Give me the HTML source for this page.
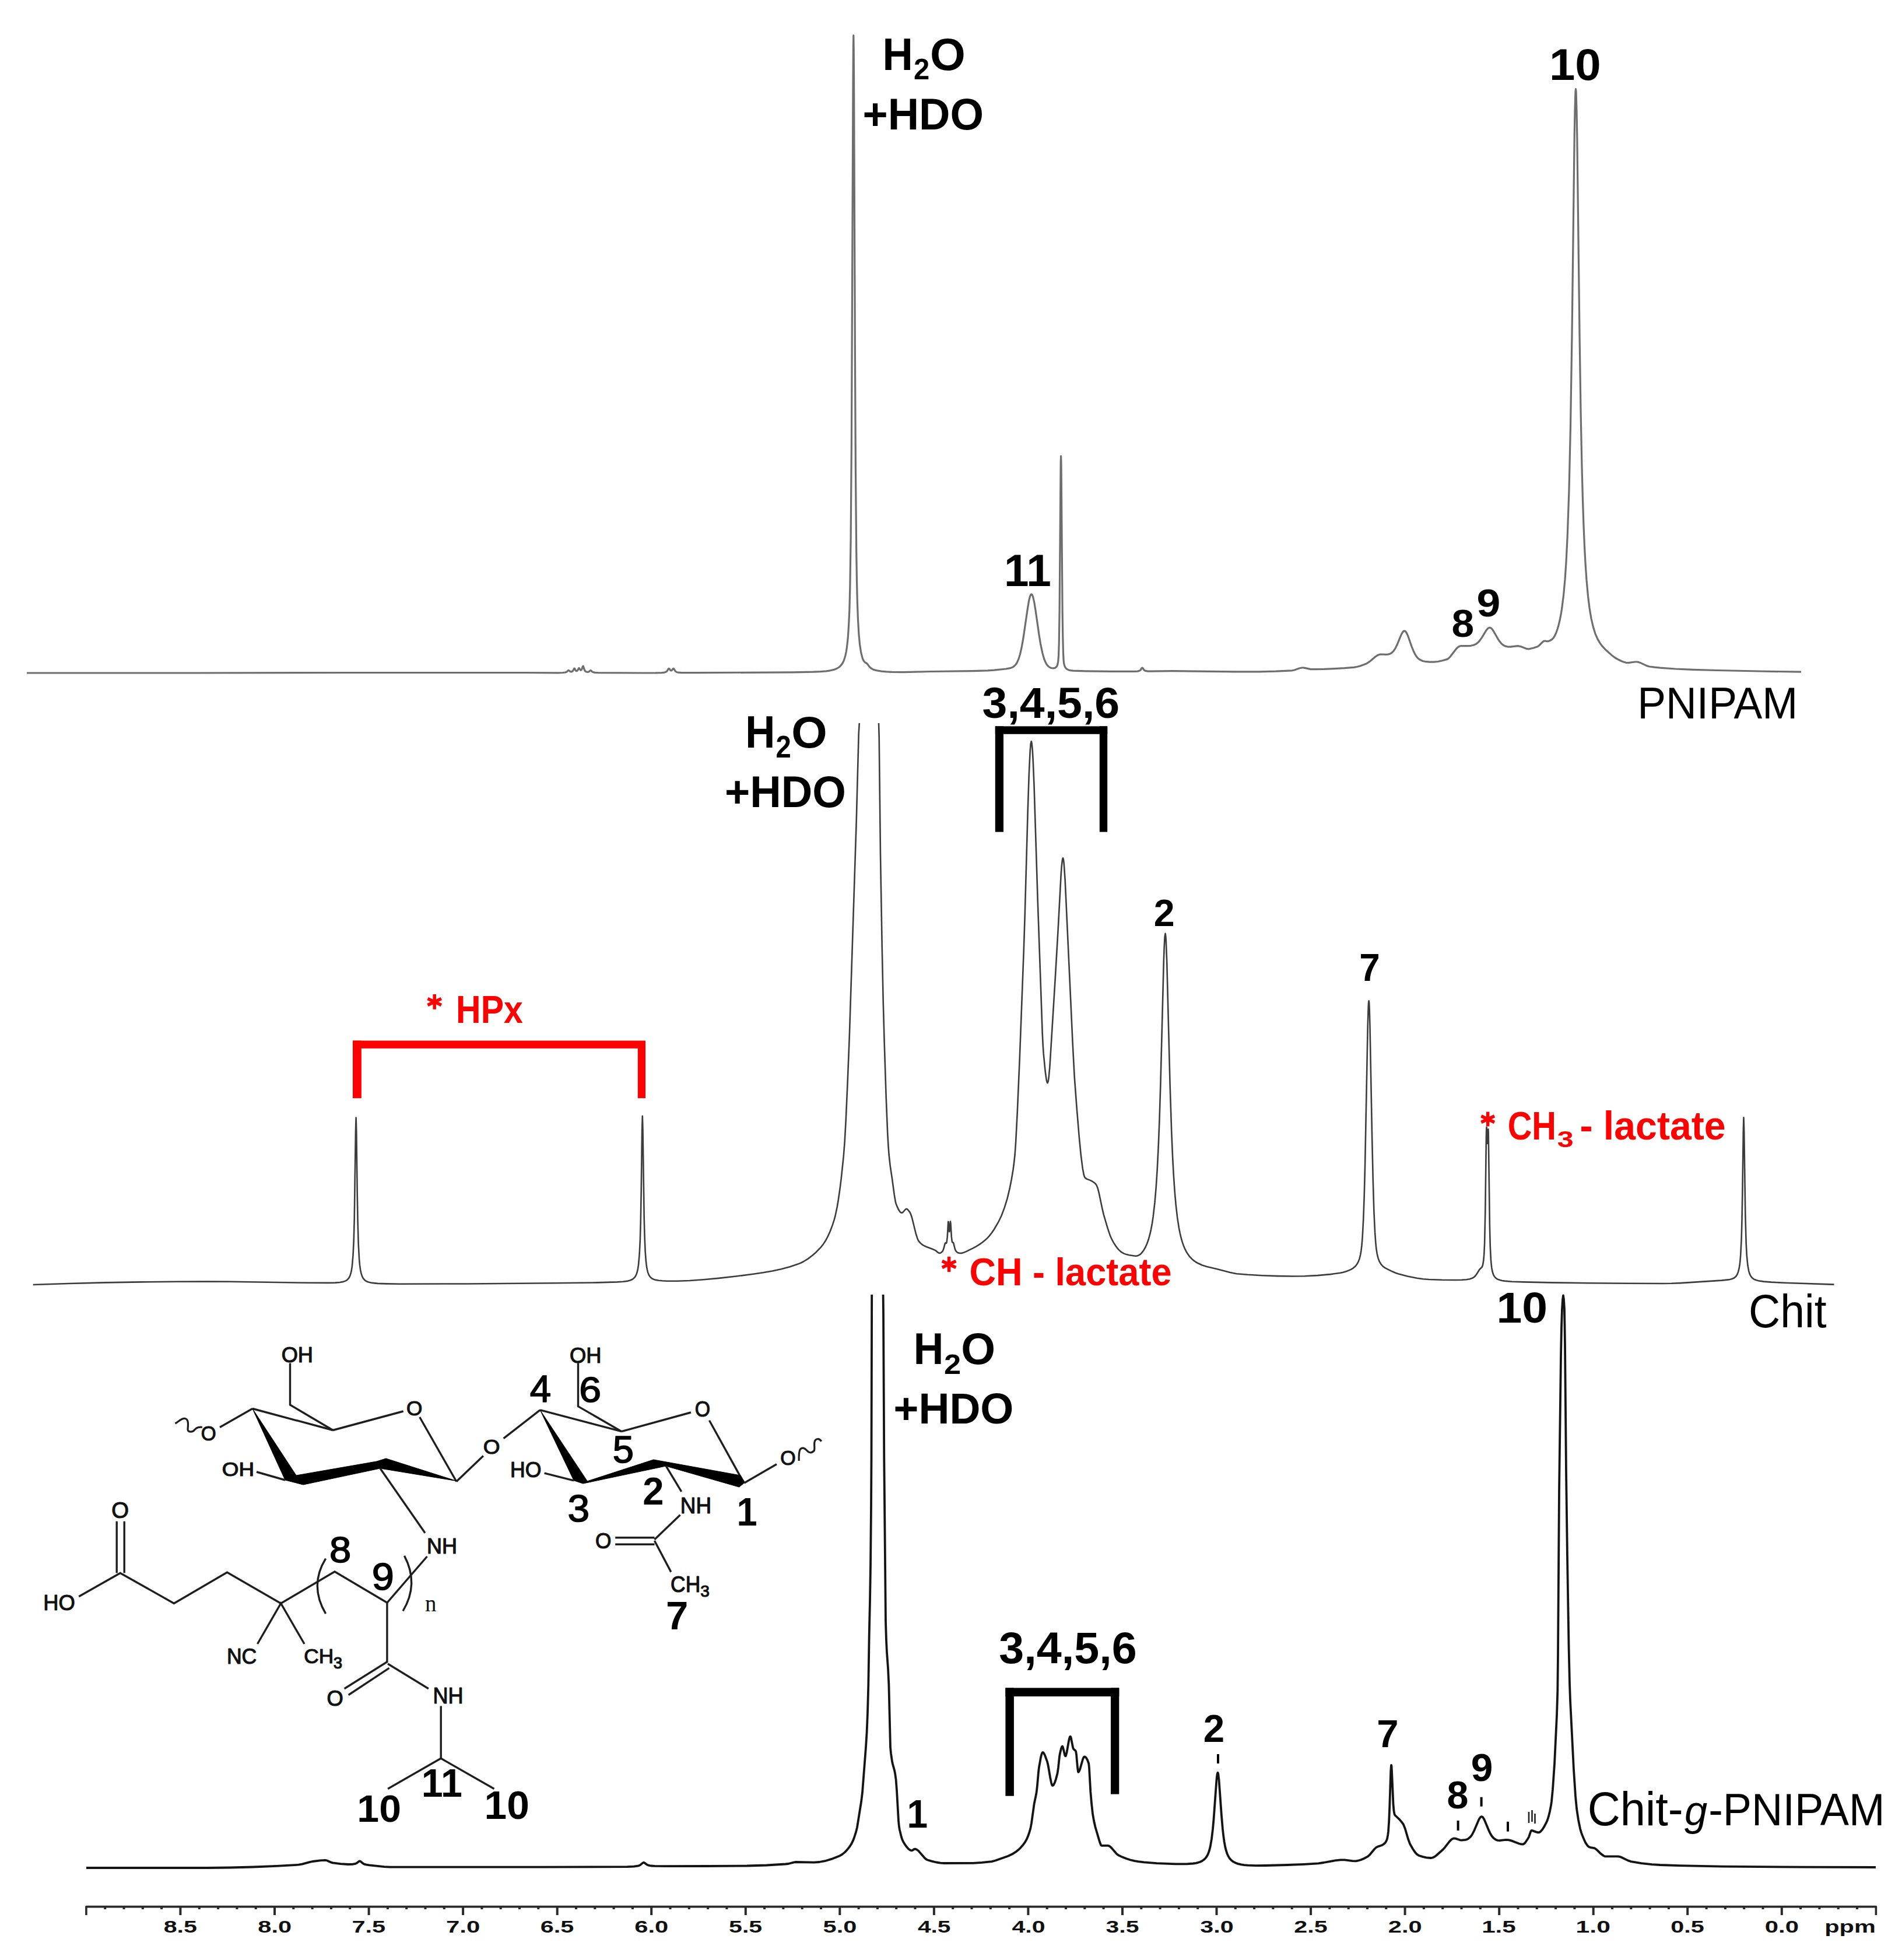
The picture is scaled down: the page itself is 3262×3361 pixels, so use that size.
<!DOCTYPE html>
<html><head><meta charset="utf-8"><style>
html,body{margin:0;padding:0;background:#fff;width:3262px;height:3361px;overflow:hidden}
svg{display:block}
</style></head><body>
<svg width="3262" height="3361" viewBox="0 0 3262 3361">
<rect width="3262" height="3361" fill="#fff"/>
<path d="M46.0 1154.0 L330.0 1154.0 L594.0 1153.5 L901.2 1153.5 L957.0 1153.8 L965.2 1153.5 L969.5 1153.0 L971.8 1152.2 L974.2 1149.9 L975.0 1149.5 L975.6 1149.7 L978.2 1151.6 L979.4 1151.9 L980.5 1151.8 L981.6 1151.3 L982.5 1150.4 L984.4 1146.7 L985.0 1146.1 L985.6 1146.6 L987.2 1149.7 L988.5 1150.6 L989.5 1150.5 L990.5 1149.8 L992.5 1146.0 L993.0 1145.6 L993.6 1146.1 L995.2 1148.8 L995.8 1149.2 L996.4 1149.2 L997.2 1148.6 L997.8 1147.6 L999.4 1142.9 L1000.0 1142.1 L1000.5 1142.8 L1001.8 1147.2 L1002.8 1149.5 L1003.8 1151.0 L1005.2 1151.9 L1007.0 1152.3 L1009.0 1152.2 L1010.2 1151.6 L1012.2 1149.9 L1013.0 1149.6 L1013.8 1150.0 L1016.0 1152.1 L1017.8 1152.9 L1020.8 1153.4 L1026.0 1153.7 L1101.2 1154.0 L1124.5 1153.9 L1135.0 1153.6 L1139.8 1153.1 L1142.5 1152.1 L1144.2 1150.5 L1146.2 1147.0 L1147.0 1146.4 L1147.8 1146.8 L1149.8 1149.5 L1151.0 1150.0 L1152.2 1149.5 L1154.2 1146.8 L1155.0 1146.3 L1155.8 1147.0 L1158.0 1150.7 L1159.8 1152.1 L1161.2 1152.7 L1163.2 1153.2 L1169.2 1153.6 L1192.0 1153.7 L1359.0 1152.8 L1395.0 1152.2 L1407.0 1151.6 L1417.0 1150.8 L1424.0 1149.8 L1430.0 1148.4 L1435.0 1146.5 L1439.1 1144.0 L1441.7 1141.6 L1444.0 1138.7 L1445.6 1136.1 L1447.0 1133.1 L1448.7 1128.3 L1450.0 1123.6 L1451.3 1117.2 L1452.4 1110.6 L1454.2 1094.0 L1455.7 1070.9 L1456.8 1046.7 L1457.8 1008.9 L1459.1 924.2 L1460.4 760.7 L1463.0 150.0 L1463.4 84.3 L1463.8 60.5 L1464.2 84.3 L1464.6 145.9 L1466.4 607.0 L1467.4 801.9 L1468.7 945.9 L1469.5 996.1 L1470.3 1029.9 L1471.4 1061.2 L1472.9 1087.3 L1474.6 1105.3 L1476.8 1119.4 L1479.1 1128.3 L1480.6 1131.9 L1481.8 1134.0 L1483.8 1136.1 L1486.2 1137.3 L1487.2 1138.1 L1491.1 1143.4 L1494.2 1146.2 L1497.4 1147.9 L1501.0 1149.1 L1505.8 1150.2 L1511.9 1151.1 L1520.0 1151.8 L1530.0 1152.4 L1549.6 1152.7 L1597.0 1151.5 L1668.0 1150.7 L1694.0 1149.9 L1705.0 1149.2 L1725.2 1147.0 L1731.5 1145.9 L1736.0 1144.4 L1738.0 1143.3 L1740.2 1141.5 L1742.0 1139.6 L1744.0 1136.6 L1747.0 1129.9 L1749.4 1122.1 L1752.1 1110.4 L1754.8 1095.4 L1762.0 1046.2 L1764.0 1033.9 L1765.2 1027.6 L1766.5 1022.9 L1767.8 1019.9 L1768.3 1019.2 L1769.0 1018.9 L1770.2 1019.9 L1771.5 1023.0 L1773.7 1032.5 L1776.0 1046.6 L1782.0 1088.5 L1784.5 1103.8 L1787.8 1119.6 L1790.8 1130.2 L1792.8 1135.1 L1795.0 1139.2 L1797.1 1141.8 L1799.8 1144.1 L1803.0 1145.5 L1806.5 1145.9 L1808.0 1145.7 L1809.5 1145.2 L1811.7 1143.6 L1812.8 1142.1 L1813.7 1139.9 L1814.7 1134.5 L1815.5 1125.5 L1816.2 1104.6 L1817.1 1046.3 L1818.9 824.2 L1819.2 793.3 L1819.6 782.0 L1820.0 793.4 L1820.3 824.4 L1822.1 1046.8 L1822.8 1092.3 L1823.4 1117.8 L1824.1 1131.8 L1824.6 1136.9 L1825.4 1140.5 L1826.4 1143.4 L1827.9 1145.7 L1829.7 1147.4 L1832.2 1148.7 L1835.8 1149.6 L1840.3 1150.2 L1862.0 1150.9 L1906.5 1151.4 L1945.5 1151.4 L1951.0 1151.1 L1954.2 1150.3 L1956.0 1149.0 L1958.2 1145.7 L1959.0 1145.1 L1959.8 1145.7 L1961.8 1148.6 L1963.2 1149.9 L1965.8 1150.7 L1969.5 1151.1 L2010.2 1150.7 L2118.0 1151.8 L2159.0 1151.9 L2188.0 1151.2 L2216.0 1149.8 L2220.0 1149.0 L2229.0 1145.8 L2233.0 1145.0 L2235.0 1145.0 L2237.8 1145.4 L2248.0 1147.6 L2254.0 1147.7 L2271.0 1147.4 L2288.5 1146.7 L2306.0 1145.7 L2322.0 1144.4 L2327.0 1143.5 L2332.0 1142.2 L2339.0 1139.8 L2344.0 1137.8 L2349.0 1134.4 L2359.0 1126.0 L2362.0 1124.0 L2364.6 1122.8 L2366.5 1122.2 L2368.2 1122.0 L2377.0 1122.3 L2380.2 1122.1 L2383.8 1121.2 L2387.0 1119.4 L2390.0 1116.4 L2393.0 1111.9 L2396.0 1105.8 L2401.8 1091.6 L2404.0 1086.7 L2406.0 1083.5 L2407.0 1082.5 L2408.0 1082.0 L2409.0 1081.9 L2410.2 1082.5 L2411.4 1083.9 L2413.0 1086.6 L2415.0 1091.3 L2421.2 1109.0 L2424.0 1116.0 L2427.0 1122.2 L2430.0 1126.7 L2432.0 1128.9 L2434.0 1130.5 L2438.0 1132.7 L2441.0 1133.7 L2444.0 1134.3 L2452.0 1135.2 L2459.0 1135.2 L2466.0 1134.5 L2474.0 1132.8 L2482.2 1130.4 L2484.8 1128.5 L2487.4 1125.8 L2498.0 1112.1 L2500.4 1109.8 L2503.0 1108.2 L2505.0 1107.7 L2517.3 1107.6 L2522.5 1107.3 L2527.0 1106.3 L2531.0 1104.6 L2534.2 1102.3 L2537.5 1098.9 L2541.2 1093.6 L2549.0 1080.8 L2552.0 1077.4 L2554.0 1076.3 L2555.0 1076.2 L2557.0 1076.9 L2558.9 1078.7 L2560.0 1080.1 L2562.0 1083.2 L2570.0 1097.2 L2572.0 1100.1 L2574.5 1103.1 L2577.0 1105.4 L2579.0 1106.7 L2582.0 1108.1 L2584.9 1108.8 L2587.5 1109.1 L2590.1 1109.1 L2601.0 1107.8 L2604.0 1107.7 L2608.0 1108.6 L2618.0 1112.4 L2621.0 1112.9 L2623.0 1112.8 L2630.4 1111.0 L2637.0 1108.7 L2639.5 1107.0 L2645.0 1101.5 L2647.0 1099.8 L2648.0 1099.3 L2650.0 1099.0 L2653.0 1099.7 L2655.0 1099.7 L2659.0 1098.2 L2662.0 1096.2 L2664.2 1093.8 L2666.5 1090.2 L2668.8 1085.3 L2671.0 1079.0 L2673.0 1072.2 L2675.0 1064.0 L2677.0 1053.9 L2678.5 1044.8 L2681.5 1021.3 L2684.0 993.9 L2686.0 964.5 L2688.2 919.8 L2691.0 840.0 L2693.5 730.9 L2696.0 572.9 L2700.2 233.6 L2701.0 190.4 L2701.8 162.4 L2702.0 157.0 L2702.5 152.7 L2703.0 157.0 L2703.2 162.4 L2704.0 190.4 L2704.8 233.6 L2709.0 573.1 L2711.0 703.8 L2713.0 801.8 L2714.5 857.6 L2716.0 901.8 L2717.5 936.9 L2719.0 965.1 L2721.0 994.7 L2723.5 1022.2 L2726.0 1042.5 L2729.0 1060.5 L2732.5 1075.6 L2736.2 1087.3 L2740.0 1095.9 L2743.8 1102.4 L2748.0 1108.2 L2754.0 1114.5 L2764.0 1123.4 L2770.0 1128.0 L2776.0 1131.3 L2781.0 1133.8 L2785.0 1135.3 L2788.8 1136.3 L2793.0 1136.6 L2803.8 1135.0 L2808.0 1135.0 L2810.0 1135.4 L2813.0 1136.4 L2824.0 1141.6 L2828.7 1143.0 L2837.5 1144.2 L2847.0 1145.2 L2873.0 1147.0 L2904.0 1148.3 L2945.0 1149.5 L3017.0 1151.0 L3089.0 1152.2" fill="none" stroke="#6e6e6e" stroke-width="3.2" stroke-linejoin="round" stroke-linecap="butt"/>
<path d="M56.7 2203.0 L117.7 2201.0 L179.7 2199.4 L241.7 2198.4 L303.7 2197.7 L353.7 2197.6 L392.7 2197.8 L530.7 2199.8 L563.7 2199.9 L575.0 2199.6 L583.0 2199.0 L588.8 2197.9 L593.4 2196.1 L595.7 2194.5 L598.4 2191.4 L600.2 2187.9 L601.6 2183.7 L602.8 2178.6 L603.9 2171.1 L605.5 2152.6 L606.7 2127.9 L607.7 2091.4 L609.9 1940.0 L610.6 1916.5 L611.3 1940.0 L612.7 2046.1 L613.6 2095.6 L614.7 2133.3 L616.1 2159.4 L617.0 2169.4 L618.2 2177.7 L619.3 2183.2 L621.0 2188.3 L623.0 2192.3 L625.5 2195.2 L628.7 2197.3 L631.7 2198.5 L638.2 2199.9 L647.7 2200.9 L662.4 2201.4 L685.4 2201.7 L800.7 2201.5 L950.7 2200.3 L1023.7 2199.4 L1058.7 2198.4 L1068.5 2197.8 L1075.3 2196.9 L1080.7 2195.5 L1084.7 2193.7 L1087.7 2191.3 L1089.6 2188.9 L1091.5 2185.2 L1092.8 2181.0 L1094.0 2175.9 L1095.1 2168.3 L1096.7 2149.7 L1097.9 2125.3 L1098.8 2092.6 L1099.7 2043.2 L1101.1 1937.2 L1101.8 1913.7 L1102.5 1937.2 L1104.7 2088.3 L1105.5 2118.3 L1106.6 2145.6 L1108.0 2163.8 L1108.9 2171.3 L1110.1 2177.7 L1111.2 2182.1 L1112.8 2186.2 L1114.7 2189.1 L1116.7 2191.3 L1119.0 2192.9 L1121.7 2194.0 L1124.8 2194.9 L1129.7 2195.7 L1135.7 2196.3 L1143.7 2196.7 L1161.7 2196.7 L1182.7 2196.0 L1206.7 2194.3 L1232.7 2191.9 L1262.7 2188.5 L1291.7 2184.8 L1308.7 2182.3 L1324.7 2179.5 L1339.7 2176.2 L1354.7 2172.2 L1368.7 2167.6 L1373.7 2165.5 L1377.7 2163.5 L1385.7 2158.6 L1392.7 2153.3 L1399.7 2147.2 L1407.0 2139.7 L1411.7 2133.9 L1415.7 2127.8 L1419.7 2120.4 L1423.7 2111.5 L1427.7 2100.9 L1430.7 2091.7 L1432.7 2084.1 L1435.7 2069.7 L1437.7 2058.0 L1440.7 2037.2 L1442.7 2021.1 L1446.7 1983.2 L1448.7 1957.4 L1450.7 1921.2 L1453.7 1854.1 L1456.7 1779.2 L1468.7 1408.5 L1472.7 1258.0 L1473.7 1241.1 L1474.0 1240.0 M1507.0 1240.0 L1507.7 1263.4 L1510.0 1465.6 L1512.7 1622.0 L1514.7 1716.7 L1516.7 1788.6 L1519.7 1881.2 L1522.2 1942.8 L1523.5 1965.2 L1524.6 1980.0 L1526.7 1999.1 L1530.0 2021.0 L1533.7 2048.4 L1535.7 2060.4 L1536.9 2064.8 L1538.8 2069.4 L1541.2 2074.6 L1543.5 2078.0 L1545.0 2079.3 L1546.5 2079.8 L1547.7 2079.4 L1548.8 2078.5 L1552.7 2074.0 L1553.8 2073.3 L1554.7 2073.0 L1555.7 2073.3 L1556.7 2074.0 L1560.2 2078.4 L1561.7 2081.3 L1563.8 2087.3 L1570.8 2115.5 L1573.8 2124.8 L1575.2 2127.6 L1577.7 2130.8 L1580.5 2133.4 L1583.7 2135.6 L1588.8 2138.0 L1598.8 2141.7 L1603.1 2143.6 L1604.8 2144.5 L1608.5 2147.7 L1610.2 2148.7 L1611.2 2148.9 L1612.1 2148.8 L1613.8 2148.1 L1615.2 2147.0 L1616.7 2145.3 L1617.9 2142.8 L1620.9 2131.9 L1621.5 2131.4 L1622.5 2132.0 L1622.8 2131.9 L1623.3 2131.2 L1623.7 2129.7 L1624.7 2121.4 L1626.2 2095.1 L1626.3 2094.8 L1626.5 2095.0 L1626.7 2096.3 L1627.7 2110.0 L1628.0 2111.9 L1628.2 2112.2 L1628.8 2109.5 L1629.7 2096.6 L1630.0 2094.6 L1630.5 2098.3 L1631.8 2120.7 L1632.7 2128.4 L1633.3 2130.3 L1633.7 2130.5 L1634.6 2130.5 L1635.2 2131.3 L1638.0 2142.4 L1639.2 2144.9 L1641.0 2147.0 L1643.2 2148.3 L1646.2 2149.0 L1649.0 2148.9 L1652.2 2148.1 L1656.5 2146.4 L1668.8 2140.4 L1674.3 2137.3 L1679.5 2134.1 L1684.7 2130.5 L1689.3 2126.7 L1693.5 2122.9 L1696.7 2119.4 L1700.7 2114.3 L1704.7 2108.5 L1712.2 2095.7 L1717.5 2084.7 L1722.7 2070.9 L1727.5 2055.4 L1731.7 2037.9 L1734.7 2022.7 L1737.5 2006.0 L1738.7 1997.3 L1740.6 1980.0 L1742.0 1960.3 L1744.7 1908.6 L1748.7 1816.3 L1755.7 1631.7 L1757.7 1570.0 L1762.7 1390.4 L1764.7 1329.7 L1766.7 1287.3 L1767.7 1275.6 L1768.7 1271.4 L1769.0 1271.8 L1769.7 1275.3 L1770.7 1286.3 L1771.7 1303.4 L1773.5 1346.6 L1779.7 1543.9 L1787.7 1771.6 L1788.7 1792.0 L1789.7 1806.9 L1792.7 1837.6 L1794.7 1851.9 L1795.7 1855.8 L1796.0 1856.5 L1796.6 1857.0 L1797.7 1854.3 L1798.7 1847.8 L1800.5 1828.0 L1809.5 1682.2 L1814.7 1593.1 L1819.7 1499.6 L1820.7 1485.9 L1821.7 1476.3 L1822.7 1471.6 L1823.0 1471.3 L1823.7 1472.9 L1824.7 1480.4 L1826.7 1509.9 L1839.7 1789.8 L1842.7 1846.6 L1846.7 1900.1 L1850.7 1948.5 L1853.7 1979.6 L1856.7 2003.3 L1858.7 2013.9 L1859.7 2017.3 L1860.7 2019.4 L1863.7 2021.6 L1870.7 2024.4 L1874.7 2026.7 L1877.0 2028.3 L1878.7 2029.9 L1880.7 2032.5 L1882.7 2037.7 L1884.7 2045.4 L1890.5 2072.9 L1892.7 2082.4 L1899.5 2105.7 L1903.7 2118.2 L1907.0 2125.7 L1909.7 2130.6 L1913.0 2135.8 L1915.7 2139.6 L1918.7 2143.1 L1921.7 2145.9 L1923.7 2147.4 L1927.7 2149.6 L1931.7 2151.1 L1936.7 2152.2 L1946.7 2153.8 L1949.9 2153.6 L1952.7 2152.7 L1955.3 2151.2 L1957.7 2148.9 L1961.6 2143.7 L1964.3 2139.0 L1967.0 2133.0 L1969.7 2125.5 L1972.4 2115.7 L1974.2 2107.6 L1976.0 2097.7 L1977.7 2086.4 L1980.5 2062.2 L1982.7 2036.4 L1984.7 2005.6 L1986.8 1963.4 L1988.6 1916.8 L1990.4 1859.1 L1995.8 1648.5 L1996.7 1623.1 L1997.6 1606.6 L1998.5 1600.9 L1998.7 1601.2 L1999.4 1606.7 L1999.7 1611.1 L2001.2 1648.8 L2006.6 1860.0 L2009.3 1942.5 L2011.1 1984.2 L2012.7 2013.9 L2014.7 2043.3 L2016.7 2066.1 L2019.2 2087.9 L2021.9 2105.4 L2023.7 2114.5 L2025.5 2122.2 L2027.7 2129.9 L2029.7 2135.7 L2031.8 2140.8 L2034.5 2146.2 L2037.2 2150.6 L2039.9 2154.3 L2043.5 2158.2 L2046.7 2161.1 L2050.7 2164.0 L2054.7 2166.3 L2061.7 2169.5 L2069.7 2172.1 L2086.7 2176.0 L2109.7 2182.0 L2120.7 2184.2 L2139.7 2185.8 L2164.7 2187.2 L2190.7 2188.1 L2216.7 2188.5 L2237.6 2188.2 L2259.6 2187.1 L2282.0 2185.1 L2299.0 2182.7 L2303.7 2181.7 L2308.7 2180.2 L2313.5 2178.4 L2317.3 2176.6 L2320.7 2174.6 L2322.8 2172.8 L2325.1 2170.7 L2327.2 2167.8 L2329.7 2163.4 L2331.5 2158.6 L2333.3 2151.3 L2334.4 2144.7 L2335.5 2135.4 L2336.6 2122.2 L2338.2 2091.9 L2339.7 2051.3 L2341.0 2001.6 L2345.7 1759.7 L2346.7 1726.7 L2347.1 1720.2 L2347.6 1716.3 L2348.2 1720.2 L2348.7 1731.6 L2349.5 1759.7 L2353.1 1949.7 L2354.8 2024.0 L2356.4 2078.0 L2358.1 2113.4 L2359.2 2129.0 L2360.2 2140.0 L2361.7 2149.8 L2363.6 2157.6 L2365.7 2163.2 L2368.5 2167.9 L2371.7 2171.5 L2375.7 2174.4 L2387.7 2180.3 L2392.7 2182.5 L2397.7 2184.3 L2413.7 2188.4 L2430.1 2191.7 L2440.7 2193.2 L2450.7 2194.0 L2472.7 2194.8 L2495.7 2195.0 L2507.0 2194.8 L2514.9 2194.2 L2520.7 2193.2 L2525.0 2191.8 L2527.7 2190.2 L2530.4 2187.7 L2532.7 2184.6 L2537.3 2177.0 L2541.2 2173.3 L2542.2 2171.7 L2543.0 2169.2 L2544.3 2161.8 L2545.3 2149.8 L2546.1 2132.5 L2547.3 2078.1 L2548.9 1950.7 L2549.2 1938.4 L2549.5 1932.9 L2550.9 1960.9 L2551.3 1957.5 L2552.2 1936.8 L2552.4 1936.3 L2552.4 1936.5 L2552.7 1942.3 L2554.9 2103.4 L2555.8 2137.4 L2556.9 2160.2 L2558.2 2173.4 L2559.1 2178.6 L2560.2 2182.8 L2561.4 2186.2 L2562.9 2188.8 L2564.7 2191.0 L2567.0 2192.8 L2569.5 2194.1 L2572.4 2195.1 L2576.0 2196.0 L2580.5 2196.6 L2593.1 2197.7 L2612.9 2198.4 L2659.7 2199.4 L2727.0 2200.3 L2791.7 2200.8 L2851.7 2201.0 L2866.7 2200.8 L2882.7 2200.1 L2952.6 2195.6 L2964.7 2194.4 L2968.7 2193.6 L2971.7 2192.6 L2974.7 2191.0 L2977.2 2188.8 L2979.2 2185.7 L2980.8 2181.9 L2982.2 2176.9 L2983.4 2170.6 L2984.3 2163.3 L2985.2 2152.5 L2986.6 2125.0 L2987.5 2092.8 L2988.4 2042.1 L2989.8 1939.6 L2990.5 1916.4 L2991.2 1939.6 L2993.3 2082.4 L2994.7 2132.8 L2995.8 2153.0 L2997.4 2169.6 L2999.2 2179.6 L3000.6 2184.1 L3002.0 2187.1 L3003.6 2189.6 L3005.4 2191.6 L3007.7 2193.3 L3009.7 2194.3 L3012.3 2195.3 L3015.8 2196.2 L3024.7 2197.6 L3037.7 2198.6 L3059.5 2199.7 L3145.5 2202.6" fill="none" stroke="#3c3c3c" stroke-width="2.6" stroke-linejoin="round" stroke-linecap="butt"/>
<path d="M148.0 3203.0 L356.0 3203.0 L396.0 3202.5 L434.0 3201.5 L474.0 3199.9 L512.0 3197.7 L518.0 3196.7 L531.0 3193.1 L536.0 3192.0 L549.0 3190.3 L557.3 3189.8 L559.0 3190.0 L561.0 3190.5 L568.0 3193.7 L570.6 3194.4 L584.0 3196.1 L597.5 3197.0 L604.0 3196.9 L608.5 3196.2 L611.5 3195.0 L615.5 3191.9 L617.0 3191.4 L618.5 3192.0 L621.5 3194.6 L623.5 3196.0 L625.5 3196.9 L628.5 3197.7 L633.5 3198.4 L659.0 3201.1 L669.0 3201.7 L931.5 3201.6 L1076.0 3201.1 L1087.0 3200.7 L1094.0 3199.7 L1096.0 3199.1 L1098.0 3198.1 L1102.5 3194.4 L1104.0 3193.8 L1105.5 3194.4 L1109.5 3197.5 L1112.0 3198.6 L1116.5 3199.5 L1123.0 3199.9 L1141.0 3200.1 L1212.0 3200.0 L1281.0 3199.5 L1315.0 3198.5 L1347.0 3196.5 L1352.0 3196.0 L1361.0 3193.6 L1365.0 3193.0 L1396.0 3193.6 L1405.0 3193.0 L1415.0 3191.2 L1426.0 3187.9 L1439.2 3182.8 L1442.0 3181.4 L1445.0 3179.4 L1449.0 3176.1 L1453.0 3171.9 L1457.0 3166.9 L1460.0 3162.3 L1463.0 3156.2 L1465.0 3151.0 L1468.0 3141.6 L1470.0 3133.6 L1477.0 3089.9 L1479.0 3073.8 L1485.0 2996.2 L1486.6 2970.5 L1488.0 2936.1 L1489.3 2889.3 L1490.6 2808.2 L1492.0 2745.1 L1493.0 2685.4 L1494.0 2583.4 L1494.5 2500.0 L1495.2 2220.0 M1514.6 2220.0 L1515.0 2249.9 L1516.3 2500.0 L1519.0 2781.0 L1520.0 2813.2 L1521.0 2833.4 L1523.0 2860.7 L1524.4 2889.3 L1527.0 2996.1 L1528.0 3006.7 L1530.0 3020.5 L1531.0 3024.9 L1534.0 3035.8 L1535.0 3040.6 L1536.6 3051.6 L1538.0 3070.2 L1541.0 3122.9 L1542.0 3132.7 L1543.0 3138.1 L1546.0 3150.4 L1547.0 3153.4 L1549.0 3158.0 L1552.0 3162.9 L1555.0 3167.1 L1558.0 3170.5 L1560.0 3172.0 L1562.0 3173.0 L1563.7 3173.3 L1565.0 3172.9 L1568.0 3170.9 L1569.0 3170.6 L1570.0 3170.7 L1572.0 3171.5 L1574.0 3172.9 L1576.0 3174.7 L1586.0 3186.3 L1588.0 3188.0 L1590.0 3189.2 L1598.0 3191.6 L1606.0 3193.5 L1613.0 3194.6 L1619.0 3195.0 L1669.0 3194.9 L1684.0 3193.9 L1701.0 3192.1 L1707.0 3190.5 L1729.0 3182.7 L1735.8 3179.6 L1742.0 3175.7 L1746.0 3172.6 L1750.0 3168.8 L1754.0 3164.3 L1758.0 3158.9 L1761.0 3153.5 L1763.0 3148.8 L1765.0 3143.2 L1767.3 3135.5 L1769.0 3126.5 L1773.6 3093.4 L1777.0 3077.2 L1777.8 3072.4 L1779.0 3061.4 L1781.0 3038.5 L1782.0 3030.3 L1785.0 3013.7 L1786.0 3009.5 L1787.0 3006.5 L1788.0 3005.1 L1788.3 3005.0 L1789.0 3005.2 L1790.0 3006.2 L1792.0 3009.9 L1795.7 3019.8 L1797.0 3024.6 L1798.0 3029.6 L1801.0 3047.3 L1803.0 3057.2 L1804.0 3060.4 L1805.0 3061.9 L1806.0 3061.6 L1807.0 3060.6 L1809.0 3056.7 L1811.0 3050.6 L1813.6 3040.8 L1815.0 3030.9 L1817.0 3012.2 L1817.8 3007.2 L1820.0 2998.3 L1821.0 2995.6 L1822.0 2994.6 L1822.5 2995.0 L1824.0 3000.1 L1826.0 3009.1 L1827.0 3011.3 L1827.2 3011.4 L1828.0 3010.5 L1829.5 3005.2 L1833.0 2985.4 L1834.0 2980.9 L1835.0 2978.2 L1835.6 2977.7 L1836.0 2978.0 L1836.5 2979.1 L1837.0 2980.9 L1840.0 2996.2 L1840.9 2998.8 L1842.0 3000.1 L1844.0 3001.5 L1845.1 3003.0 L1846.0 3008.2 L1848.0 3031.1 L1849.0 3038.2 L1849.3 3038.7 L1850.0 3038.4 L1850.5 3037.7 L1852.0 3034.4 L1857.0 3017.0 L1858.0 3014.5 L1859.0 3012.8 L1859.8 3012.4 L1861.0 3012.7 L1862.0 3013.4 L1863.0 3014.5 L1865.0 3018.0 L1867.2 3024.0 L1868.0 3031.6 L1870.3 3072.4 L1872.0 3092.1 L1874.0 3110.4 L1876.0 3122.0 L1878.5 3133.0 L1886.0 3158.5 L1888.0 3163.7 L1889.0 3164.8 L1889.3 3164.9 L1900.0 3164.9 L1902.0 3165.4 L1904.0 3166.7 L1906.0 3168.5 L1914.0 3177.8 L1916.0 3179.8 L1918.0 3181.3 L1925.0 3184.6 L1932.0 3187.3 L1939.0 3189.5 L1946.0 3191.1 L1952.0 3192.1 L1962.0 3193.3 L1984.0 3195.1 L2016.0 3196.4 L2035.0 3196.4 L2046.5 3195.5 L2051.0 3194.8 L2055.0 3193.8 L2058.4 3192.7 L2061.9 3191.0 L2064.7 3189.0 L2066.8 3187.1 L2068.9 3184.5 L2070.3 3182.3 L2071.7 3179.5 L2073.1 3175.9 L2074.5 3171.4 L2075.9 3165.5 L2078.0 3153.2 L2080.0 3136.5 L2081.5 3120.0 L2086.4 3052.4 L2087.1 3045.6 L2087.8 3041.2 L2088.5 3039.7 L2089.2 3041.3 L2090.6 3052.6 L2094.8 3111.5 L2097.0 3137.0 L2098.3 3148.6 L2099.7 3158.5 L2101.0 3165.7 L2102.5 3172.2 L2104.6 3178.8 L2106.7 3183.3 L2109.0 3186.9 L2111.6 3189.7 L2115.0 3192.4 L2119.0 3194.5 L2123.5 3196.1 L2129.0 3197.4 L2134.0 3198.1 L2140.0 3198.7 L2154.0 3199.1 L2170.0 3199.0 L2207.5 3198.0 L2237.0 3196.8 L2261.0 3195.3 L2270.0 3194.0 L2289.8 3190.4 L2299.0 3189.3 L2306.0 3189.3 L2319.5 3191.1 L2325.0 3191.3 L2329.0 3190.7 L2334.0 3189.2 L2339.8 3186.7 L2346.0 3183.4 L2349.0 3180.7 L2357.0 3171.0 L2360.0 3168.1 L2362.8 3166.6 L2368.5 3164.7 L2371.0 3163.7 L2374.2 3161.4 L2376.0 3159.4 L2377.5 3157.0 L2378.5 3154.8 L2379.2 3152.2 L2380.2 3147.0 L2381.0 3140.7 L2382.2 3122.8 L2383.2 3099.1 L2385.2 3037.6 L2386.0 3026.9 L2386.2 3026.9 L2386.5 3028.7 L2387.0 3036.9 L2389.5 3093.8 L2390.5 3105.3 L2391.5 3110.6 L2392.0 3111.9 L2392.8 3113.0 L2400.5 3120.4 L2405.0 3125.8 L2407.0 3128.7 L2409.8 3135.7 L2415.0 3153.5 L2418.0 3161.7 L2423.0 3170.5 L2427.0 3176.4 L2430.0 3179.7 L2433.0 3181.7 L2439.8 3183.9 L2446.0 3185.3 L2453.0 3186.0 L2455.0 3186.0 L2457.0 3185.5 L2459.8 3184.3 L2463.0 3182.0 L2474.8 3171.5 L2478.0 3167.9 L2486.0 3157.6 L2489.0 3154.6 L2491.0 3153.2 L2493.0 3152.5 L2496.0 3152.6 L2504.0 3155.3 L2507.0 3155.7 L2513.4 3154.9 L2515.7 3154.2 L2518.0 3153.1 L2521.4 3150.3 L2523.0 3148.5 L2525.0 3145.5 L2528.3 3139.0 L2536.4 3120.0 L2538.7 3116.4 L2539.8 3115.5 L2541.0 3115.2 L2542.2 3115.5 L2543.3 3116.5 L2545.6 3120.2 L2554.0 3140.2 L2556.0 3144.3 L2558.2 3148.0 L2560.6 3151.0 L2563.0 3153.2 L2566.0 3155.0 L2568.6 3155.9 L2572.1 3156.2 L2582.4 3154.9 L2587.0 3155.1 L2592.0 3156.4 L2605.4 3161.5 L2609.0 3162.3 L2612.0 3162.5 L2614.0 3161.5 L2615.8 3159.8 L2620.0 3153.5 L2622.0 3150.1 L2625.0 3141.4 L2626.0 3139.4 L2626.7 3138.9 L2628.0 3139.1 L2635.0 3141.6 L2638.0 3142.3 L2640.0 3142.0 L2642.0 3140.8 L2645.0 3137.5 L2648.0 3132.9 L2652.0 3125.4 L2654.0 3120.7 L2656.0 3114.4 L2658.0 3106.2 L2660.0 3095.9 L2661.0 3089.3 L2663.0 3068.4 L2666.0 3024.9 L2670.0 2941.4 L2671.3 2900.0 L2672.0 2837.5 L2674.0 2557.0 L2677.0 2326.3 L2678.0 2275.2 L2679.0 2245.0 L2680.0 2228.7 L2681.0 2221.4 L2682.0 2228.3 L2683.0 2245.0 L2684.0 2304.9 L2686.0 2523.5 L2688.0 2670.1 L2690.5 2822.7 L2692.0 2887.4 L2693.0 2915.6 L2699.0 3034.6 L2702.0 3079.9 L2704.0 3101.1 L2707.0 3121.1 L2710.0 3135.7 L2712.0 3142.6 L2713.5 3146.6 L2717.0 3155.1 L2719.2 3159.7 L2722.0 3164.1 L2724.0 3166.3 L2725.0 3167.0 L2727.0 3167.8 L2734.0 3169.1 L2736.0 3170.0 L2739.0 3172.4 L2745.0 3178.4 L2750.0 3182.1 L2752.0 3183.1 L2753.2 3183.3 L2774.0 3183.3 L2776.0 3183.5 L2778.0 3183.9 L2781.0 3185.0 L2792.0 3190.4 L2797.0 3192.1 L2815.0 3195.1 L2833.0 3197.1 L2847.0 3198.0 L2880.2 3199.1 L2954.0 3200.6 L3090.0 3201.6 L3217.0 3202.0" fill="none" stroke="#141414" stroke-width="3.8" stroke-linejoin="round" stroke-linecap="butt"/>
<text transform="translate(1518.3 119.9) scale(0.9284 1)" x="-5.22" y="0" font-family="Liberation Sans, sans-serif" font-weight="bold" font-style="normal" font-size="78.05" fill="#000">H</text>
<text transform="translate(1568.8 136.3) scale(0.9696 1)" x="-1.75" y="0" font-family="Liberation Sans, sans-serif" font-weight="bold" font-style="normal" font-size="50.56" fill="#000">2</text>
<text transform="translate(1598.1 119.9) scale(1.0161 1)" x="-3.15" y="0" font-family="Liberation Sans, sans-serif" font-weight="bold" font-style="normal" font-size="76.91" fill="#000">O</text>
<text transform="translate(1482.6 222.4) scale(0.9633 1)" x="-3.22" y="0" font-family="Liberation Sans, sans-serif" font-weight="bold" font-style="normal" font-size="76.76" fill="#000">+HDO</text>
<text transform="translate(1726.8 1005.0) scale(0.9826 1)" x="-4.91" y="0" font-family="Liberation Sans, sans-serif" font-weight="bold" font-style="normal" font-size="77.91" fill="#000">11</text>
<text transform="translate(2491.7 1092.0) scale(1.0547 1)" x="-2.09" y="0" font-family="Liberation Sans, sans-serif" font-weight="bold" font-style="normal" font-size="65.88" fill="#000">8</text>
<text transform="translate(2535.0 1056.5) scale(1.1156 1)" x="-2.28" y="0" font-family="Liberation Sans, sans-serif" font-weight="bold" font-style="normal" font-size="65.88" fill="#000">9</text>
<text transform="translate(2662.0 136.8) scale(1.0618 1)" x="-4.74" y="0" font-family="Liberation Sans, sans-serif" font-weight="bold" font-style="normal" font-size="75.19" fill="#000">10</text>
<text transform="translate(2814.2 1231.6) scale(0.9591 1)" x="-6.26" y="0" font-family="Liberation Sans, sans-serif" font-weight="normal" font-style="normal" font-size="76.31" fill="#000">PNIPAM</text>
<text transform="translate(1283.0 1282.2) scale(0.9185 1)" x="-5.15" y="0" font-family="Liberation Sans, sans-serif" font-weight="bold" font-style="normal" font-size="77.04" fill="#000">H</text>
<text transform="translate(1332.2 1299.2) scale(0.8748 1)" x="-1.88" y="0" font-family="Liberation Sans, sans-serif" font-weight="bold" font-style="normal" font-size="54.14" fill="#000">2</text>
<text transform="translate(1360.6 1282.2) scale(1.0409 1)" x="-3.11" y="0" font-family="Liberation Sans, sans-serif" font-weight="bold" font-style="normal" font-size="75.90" fill="#000">O</text>
<text transform="translate(1246.0 1384.4) scale(0.9762 1)" x="-3.19" y="0" font-family="Liberation Sans, sans-serif" font-weight="bold" font-style="normal" font-size="75.90" fill="#000">+HDO</text>
<text transform="translate(1686.3 1231.2) scale(1.0347 1)" x="-1.71" y="0" font-family="Liberation Sans, sans-serif" font-weight="bold" font-style="normal" font-size="74.47" fill="#000">3,4,5,6</text>
<rect x="1706.8" y="1245.4" width="14.2" height="181.2" fill="#000"/>
<rect x="1706.8" y="1245.4" width="192.4" height="13.4" fill="#000"/>
<rect x="1885.8" y="1245.4" width="13.4" height="181.2" fill="#000"/>
<path d="M745.2 1705.0 L745.2 1730.8 M733.5 1712.4 L756.9 1723.4 M733.5 1723.4 L756.9 1712.4" stroke="#ff0000" stroke-width="5.5" fill="none"/>
<text transform="translate(786.0 1753.6) scale(0.8910 1)" x="-4.43" y="0" font-family="Liberation Sans, sans-serif" font-weight="bold" font-style="normal" font-size="66.28" fill="#ff0000">HPx</text>
<rect x="605.0" y="1784.5" width="14.8" height="98.7" fill="#ff0000"/>
<rect x="605.0" y="1784.5" width="502.0" height="13.3" fill="#ff0000"/>
<rect x="1093.8" y="1790.0" width="13.2" height="93.2" fill="#ff0000"/>
<text transform="translate(1981.0 1588.4) scale(0.9838 1)" x="-2.27" y="0" font-family="Liberation Sans, sans-serif" font-weight="bold" font-style="normal" font-size="65.45" fill="#000">2</text>
<text transform="translate(2334.0 1681.5) scale(0.9625 1)" x="-2.85" y="0" font-family="Liberation Sans, sans-serif" font-weight="bold" font-style="normal" font-size="66.43" fill="#000">7</text>
<path d="M1627.6 2155.0 L1627.6 2181.0 M1615.8 2162.5 L1639.4 2173.5 M1615.8 2173.5 L1639.4 2162.5" stroke="#ff0000" stroke-width="5.5" fill="none"/>
<text transform="translate(1665.0 2204.0) scale(0.9427 1)" x="-2.75" y="0" font-family="Liberation Sans, sans-serif" font-weight="bold" font-style="normal" font-size="66.93" fill="#ff0000">CH - lactate</text>
<path d="M2551.7 1906.6 L2551.7 1931.6 M2540.4 1913.8 L2563.0 1924.4 M2540.4 1924.4 L2563.0 1913.8" stroke="#ff0000" stroke-width="5.5" fill="none"/>
<text transform="translate(2588.0 1954.2) scale(0.8455 1)" x="-2.80" y="0" font-family="Liberation Sans, sans-serif" font-weight="bold" font-style="normal" font-size="68.17" fill="#ff0000">CH</text>
<text transform="translate(2672.0 1967.0) scale(1.3007 1)" x="-0.89" y="0" font-family="Liberation Sans, sans-serif" font-weight="bold" font-style="normal" font-size="38.67" fill="#ff0000">3</text>
<text transform="translate(2712.0 1954.2) scale(0.9635 1)" x="-2.68" y="0" font-family="Liberation Sans, sans-serif" font-weight="bold" font-style="normal" font-size="68.73" fill="#ff0000">- lactate</text>
<text transform="translate(3002.8 2276.3) scale(0.9465 1)" x="-4.03" y="0" font-family="Liberation Sans, sans-serif" font-weight="normal" font-style="normal" font-size="79.35" fill="#000">Chit</text>
<text transform="translate(2571.4 2268.0) scale(1.0561 1)" x="-4.69" y="0" font-family="Liberation Sans, sans-serif" font-weight="bold" font-style="normal" font-size="74.47" fill="#000">10</text>
<text transform="translate(1571.4 2338.8) scale(0.9344 1)" x="-5.11" y="0" font-family="Liberation Sans, sans-serif" font-weight="bold" font-style="normal" font-size="76.45" fill="#000">H</text>
<text transform="translate(1620.8 2355.6) scale(1.0877 1)" x="-1.67" y="0" font-family="Liberation Sans, sans-serif" font-weight="bold" font-style="normal" font-size="48.12" fill="#000">2</text>
<text transform="translate(1651.3 2338.8) scale(1.0049 1)" x="-3.09" y="0" font-family="Liberation Sans, sans-serif" font-weight="bold" font-style="normal" font-size="75.33" fill="#000">O</text>
<text transform="translate(1535.6 2440.8) scale(0.9951 1)" x="-3.10" y="0" font-family="Liberation Sans, sans-serif" font-weight="bold" font-style="normal" font-size="73.76" fill="#000">+HDO</text>
<text transform="translate(1559.6 3134.0) scale(0.9315 1)" x="-4.33" y="0" font-family="Liberation Sans, sans-serif" font-weight="bold" font-style="normal" font-size="68.75" fill="#000">1</text>
<text transform="translate(1715.0 2852.1) scale(1.0187 1)" x="-1.74" y="0" font-family="Liberation Sans, sans-serif" font-weight="bold" font-style="normal" font-size="75.90" fill="#000">3,4,5,6</text>
<rect x="1724.4" y="2894.4" width="14.5" height="185.3" fill="#000"/>
<rect x="1724.4" y="2894.4" width="194.9" height="14.6" fill="#000"/>
<rect x="1905.0" y="2894.4" width="14.3" height="182.2" fill="#000"/>
<text transform="translate(2066.0 2987.2) scale(0.9888 1)" x="-2.29" y="0" font-family="Liberation Sans, sans-serif" font-weight="bold" font-style="normal" font-size="66.17" fill="#000">2</text>
<text transform="translate(2364.0 2995.7) scale(0.9975 1)" x="-2.89" y="0" font-family="Liberation Sans, sans-serif" font-weight="bold" font-style="normal" font-size="67.30" fill="#000">7</text>
<text transform="translate(2483.7 3101.0) scale(1.0042 1)" x="-2.10" y="0" font-family="Liberation Sans, sans-serif" font-weight="bold" font-style="normal" font-size="66.17" fill="#000">8</text>
<text transform="translate(2525.0 3054.0) scale(1.0212 1)" x="-2.30" y="0" font-family="Liberation Sans, sans-serif" font-weight="bold" font-style="normal" font-size="66.31" fill="#000">9</text>
<rect x="2087.0" y="3008.0" width="4.0" height="16.0" fill="#000"/>
<rect x="2498.6" y="3122.0" width="4.0" height="17.0" fill="#000"/>
<rect x="2538.6" y="3081.7" width="4.0" height="16.0" fill="#000"/>
<rect x="2584.0" y="3123.8" width="4.0" height="16.8" fill="#000"/>
<path d="M2622 3107 V3126 M2627.5 3104 V3124 M2632.5 3110 V3127" stroke="#222" stroke-width="2.6" fill="none"/>
<text transform="translate(2726.6 3130.1) scale(0.9523 1)" x="-4.14" y="0" font-family="Liberation Sans, sans-serif" font-weight="normal" font-style="normal" font-size="81.56" fill="#000">Chit-</text>
<text transform="translate(2889.0 3130.1) scale(0.9882 1)" x="-0.14" y="0" font-family="Liberation Sans, sans-serif" font-weight="normal" font-style="italic" font-size="71.43" fill="#000">g</text>
<text transform="translate(2933.5 3130.1) scale(0.9572 1)" x="-3.43" y="0" font-family="Liberation Sans, sans-serif" font-weight="normal" font-style="normal" font-size="77.18" fill="#000">-PNIPAM</text>
<path d="M433.0 2415.5 L571.0 2452.5" fill="none" stroke="#1e1e1e" stroke-width="3.4" stroke-linecap="butt" stroke-linejoin="miter"/>
<path d="M497.5 2337.5 L497.5 2409.0 L571.0 2452.5" fill="none" stroke="#1e1e1e" stroke-width="3.4" stroke-linecap="butt" stroke-linejoin="miter"/>
<path d="M571.0 2452.5 L691.7 2420.0" fill="none" stroke="#1e1e1e" stroke-width="3.4" stroke-linecap="butt" stroke-linejoin="miter"/>
<path d="M719.7 2430.0 L782.8 2540.5" fill="none" stroke="#1e1e1e" stroke-width="3.4" stroke-linecap="butt" stroke-linejoin="miter"/>
<path d="M433.0 2415.5 L508.0 2530.0 L646.0 2506.0 L662.0 2501.0 L782.8 2539.5 L652.0 2518.0 L520.0 2546.0 L489.0 2538.0Z" fill="#000" stroke="#000" stroke-width="1" stroke-linejoin="round"/>
<path d="M489.0 2538.0 L440.0 2524.0" fill="none" stroke="#1e1e1e" stroke-width="3.4" stroke-linecap="butt" stroke-linejoin="miter"/>
<path d="M433.0 2415.5 L377.0 2447.5" fill="none" stroke="#1e1e1e" stroke-width="3.4" stroke-linecap="butt" stroke-linejoin="miter"/>
<path d="M782.8 2540.5 L828.9 2496.6" fill="none" stroke="#1e1e1e" stroke-width="3.4" stroke-linecap="butt" stroke-linejoin="miter"/>
<path d="M863.6 2466.7 L926.3 2417.9" fill="none" stroke="#1e1e1e" stroke-width="3.4" stroke-linecap="butt" stroke-linejoin="miter"/>
<path d="M652.0 2518.0 L729.0 2628.8" fill="none" stroke="#1e1e1e" stroke-width="3.4" stroke-linecap="butt" stroke-linejoin="miter"/>
<path d="M300.5 2441 C306 2438 312 2431 317.5 2432.5 C324 2434 322.5 2444 322 2451 C322 2456 330 2457 334 2451.5 C338 2447 342 2447 346.8 2447.3" fill="none" stroke="#1e1e1e" stroke-width="3.2"/>
<text transform="translate(484.4 2335.7) scale(1.0024 1)" x="-1.71" y="0" font-family="Liberation Sans, sans-serif" font-weight="normal" font-style="normal" font-size="36.09" fill="#111" stroke="#111" stroke-width="1.20" stroke-linejoin="round">OH</text>
<text transform="translate(346.3 2469.5) scale(0.9477 1)" x="-1.66" y="0" font-family="Liberation Sans, sans-serif" font-weight="normal" font-style="normal" font-size="35.09" fill="#111" stroke="#111" stroke-width="1.20" stroke-linejoin="round">O</text>
<text transform="translate(382.5 2531.3) scale(1.0897 1)" x="-1.60" y="0" font-family="Liberation Sans, sans-serif" font-weight="normal" font-style="normal" font-size="33.80" fill="#111" stroke="#111" stroke-width="1.20" stroke-linejoin="round">OH</text>
<text transform="translate(698.7 2426.5) scale(1.0020 1)" x="-1.66" y="0" font-family="Liberation Sans, sans-serif" font-weight="normal" font-style="normal" font-size="35.09" fill="#111" stroke="#111" stroke-width="1.20" stroke-linejoin="round">O</text>
<text transform="translate(830.5 2492.5) scale(1.0521 1)" x="-1.66" y="0" font-family="Liberation Sans, sans-serif" font-weight="normal" font-style="normal" font-size="35.09" fill="#111" stroke="#111" stroke-width="1.20" stroke-linejoin="round">O</text>
<path d="M926.3 2417.9 L1066.1 2454.7" fill="none" stroke="#1e1e1e" stroke-width="3.4" stroke-linecap="butt" stroke-linejoin="miter"/>
<path d="M991.5 2337.3 L991.5 2411.6 L1066.1 2454.7" fill="none" stroke="#1e1e1e" stroke-width="3.4" stroke-linecap="butt" stroke-linejoin="miter"/>
<path d="M1066.1 2454.7 L1185.0 2422.0" fill="none" stroke="#1e1e1e" stroke-width="3.4" stroke-linecap="butt" stroke-linejoin="miter"/>
<path d="M1216.5 2435.8 L1271.2 2534.6" fill="none" stroke="#1e1e1e" stroke-width="3.4" stroke-linecap="butt" stroke-linejoin="miter"/>
<path d="M926.3 2417.9 L1007.3 2539.9 L1120.8 2503.0 L1270.0 2530.0 L1277.5 2542.0 L1267.6 2550.0 L1142.0 2514.0 L999.9 2544.0 L984.1 2538.8Z" fill="#000" stroke="#000" stroke-width="1" stroke-linejoin="round"/>
<path d="M984.1 2538.8 L933.6 2526.2" fill="none" stroke="#1e1e1e" stroke-width="3.4" stroke-linecap="butt" stroke-linejoin="miter"/>
<path d="M1276.4 2543.0 L1332.0 2510.8" fill="none" stroke="#1e1e1e" stroke-width="3.4" stroke-linecap="butt" stroke-linejoin="miter"/>
<path d="M1142.0 2513.6 L1168.7 2557.8" fill="none" stroke="#1e1e1e" stroke-width="3.4" stroke-linecap="butt" stroke-linejoin="miter"/>
<path d="M1370.2 2505 C1370 2498 1370 2490 1372 2486 C1375 2481 1380 2483 1384 2487.5 C1388 2492 1393 2492 1396.5 2487 C1398 2482 1395 2475 1398 2470 C1401 2466 1406 2467 1408.6 2471.8" fill="none" stroke="#1e1e1e" stroke-width="3.2"/>
<text transform="translate(978.8 2337.3) scale(1.0024 1)" x="-1.72" y="0" font-family="Liberation Sans, sans-serif" font-weight="normal" font-style="normal" font-size="36.23" fill="#111" stroke="#111" stroke-width="1.20" stroke-linejoin="round">OH</text>
<text transform="translate(1193.4 2429.4) scale(0.9376 1)" x="-1.71" y="0" font-family="Liberation Sans, sans-serif" font-weight="normal" font-style="normal" font-size="36.09" fill="#111" stroke="#111" stroke-width="1.20" stroke-linejoin="round">O</text>
<text transform="translate(877.9 2533.0) scale(0.9830 1)" x="-2.97" y="0" font-family="Liberation Sans, sans-serif" font-weight="normal" font-style="normal" font-size="36.23" fill="#111" stroke="#111" stroke-width="1.20" stroke-linejoin="round">HO</text>
<text transform="translate(1339.9 2512.0) scale(0.9686 1)" x="-1.66" y="0" font-family="Liberation Sans, sans-serif" font-weight="normal" font-style="normal" font-size="35.09" fill="#111" stroke="#111" stroke-width="1.20" stroke-linejoin="round">O</text>
<text transform="translate(1169.8 2594.6) scale(0.9640 1)" x="-3.14" y="0" font-family="Liberation Sans, sans-serif" font-weight="normal" font-style="normal" font-size="38.23" fill="#111" stroke="#111" stroke-width="1.20" stroke-linejoin="round">NH</text>
<path d="M1166.6 2597.8 L1122.5 2640.0" fill="none" stroke="#1e1e1e" stroke-width="3.4" stroke-linecap="butt" stroke-linejoin="miter"/>
<path d="M1055.2 2636.7 L1122.5 2636.7" fill="none" stroke="#1e1e1e" stroke-width="3.4" stroke-linecap="butt" stroke-linejoin="miter"/>
<path d="M1055.2 2648.2 L1122.5 2648.2" fill="none" stroke="#1e1e1e" stroke-width="3.4" stroke-linecap="butt" stroke-linejoin="miter"/>
<path d="M1122.5 2642.0 L1150.8 2695.6" fill="none" stroke="#1e1e1e" stroke-width="3.4" stroke-linecap="butt" stroke-linejoin="miter"/>
<text transform="translate(1022.6 2654.6) scale(0.9555 1)" x="-1.75" y="0" font-family="Liberation Sans, sans-serif" font-weight="normal" font-style="normal" font-size="36.95" fill="#111" stroke="#111" stroke-width="1.20" stroke-linejoin="round">O</text>
<text transform="translate(1151.9 2730.1) scale(0.9318 1)" x="-1.93" y="0" font-family="Liberation Sans, sans-serif" font-weight="normal" font-style="normal" font-size="37.95" fill="#111" stroke="#111" stroke-width="1.20" stroke-linejoin="round">CH</text>
<text transform="translate(1202.3 2738.2) scale(1.0202 1)" x="-1.05" y="0" font-family="Liberation Sans, sans-serif" font-weight="normal" font-style="normal" font-size="27.50" fill="#111" stroke="#111" stroke-width="1.20" stroke-linejoin="round">3</text>
<text transform="translate(193.1 2602.8) scale(0.9962 1)" x="-1.82" y="0" font-family="Liberation Sans, sans-serif" font-weight="normal" font-style="normal" font-size="38.38" fill="#111" stroke="#111" stroke-width="1.20" stroke-linejoin="round">O</text>
<path d="M200.2 2608.7 L200.2 2697.4" fill="none" stroke="#1e1e1e" stroke-width="3.4" stroke-linecap="butt" stroke-linejoin="miter"/>
<path d="M213.2 2608.7 L213.2 2697.4" fill="none" stroke="#1e1e1e" stroke-width="3.4" stroke-linecap="butt" stroke-linejoin="miter"/>
<path d="M135.2 2737.7 L206.2 2697.4 L298.4 2749.5 L389.5 2696.3 L481.7 2749.5 L574.0 2695.0 L663.9 2748.3 L732.5 2669.0" fill="none" stroke="#1e1e1e" stroke-width="3.4" stroke-linecap="butt" stroke-linejoin="miter"/>
<text transform="translate(77.2 2761.3) scale(0.9742 1)" x="-3.05" y="0" font-family="Liberation Sans, sans-serif" font-weight="normal" font-style="normal" font-size="37.24" fill="#111" stroke="#111" stroke-width="1.20" stroke-linejoin="round">HO</text>
<path d="M441.5 2819.0 L481.7 2749.5 L522.0 2819.0" fill="none" stroke="#1e1e1e" stroke-width="3.4" stroke-linecap="butt" stroke-linejoin="miter"/>
<text transform="translate(391.8 2853.2) scale(0.9572 1)" x="-3.05" y="0" font-family="Liberation Sans, sans-serif" font-weight="normal" font-style="normal" font-size="37.24" fill="#111" stroke="#111" stroke-width="1.20" stroke-linejoin="round">NC</text>
<text transform="translate(523.1 2852.0) scale(0.9914 1)" x="-1.80" y="0" font-family="Liberation Sans, sans-serif" font-weight="normal" font-style="normal" font-size="35.52" fill="#111" stroke="#111" stroke-width="1.20" stroke-linejoin="round">CH</text>
<text transform="translate(572.8 2861.0) scale(1.0076 1)" x="-1.04" y="0" font-family="Liberation Sans, sans-serif" font-weight="normal" font-style="normal" font-size="27.21" fill="#111" stroke="#111" stroke-width="1.20" stroke-linejoin="round">3</text>
<text transform="translate(734.9 2664.3) scale(0.9985 1)" x="-2.96" y="0" font-family="Liberation Sans, sans-serif" font-weight="normal" font-style="normal" font-size="36.05" fill="#111" stroke="#111" stroke-width="1.20" stroke-linejoin="round">NH</text>
<path d="M558.6 2672.6 Q530 2718.7 558.6 2767.2" fill="none" stroke="#1e1e1e" stroke-width="3.4"/>
<path d="M693.5 2667.9 Q719 2716 691.1 2762.5" fill="none" stroke="#1e1e1e" stroke-width="3.4"/>
<text transform="translate(730.0 2762.5) scale(0.9715 1)" x="-0.92" y="0" font-family="Liberation Serif, serif" font-weight="normal" font-style="normal" font-size="40.11" fill="#111">n</text>
<path d="M663.9 2748.3 L663.9 2851.0" fill="none" stroke="#1e1e1e" stroke-width="3.4" stroke-linecap="butt" stroke-linejoin="miter"/>
<path d="M663.9 2849.7 L590.6 2895.8" fill="none" stroke="#1e1e1e" stroke-width="3.4" stroke-linecap="butt" stroke-linejoin="miter"/>
<path d="M667.5 2860.3 L597.7 2906.5" fill="none" stroke="#1e1e1e" stroke-width="3.4" stroke-linecap="butt" stroke-linejoin="miter"/>
<path d="M665.0 2853.0 L734.9 2895.8" fill="none" stroke="#1e1e1e" stroke-width="3.4" stroke-linecap="butt" stroke-linejoin="miter"/>
<text transform="translate(562.2 2925.4) scale(0.9757 1)" x="-1.76" y="0" font-family="Liberation Sans, sans-serif" font-weight="normal" font-style="normal" font-size="37.24" fill="#111" stroke="#111" stroke-width="1.20" stroke-linejoin="round">O</text>
<text transform="translate(745.5 2920.7) scale(0.9509 1)" x="-3.11" y="0" font-family="Liberation Sans, sans-serif" font-weight="normal" font-style="normal" font-size="37.94" fill="#111" stroke="#111" stroke-width="1.20" stroke-linejoin="round">NH</text>
<path d="M756.2 2925.4 L756.2 3015.3" fill="none" stroke="#1e1e1e" stroke-width="3.4" stroke-linecap="butt" stroke-linejoin="miter"/>
<path d="M665.1 3067.4 L756.2 3015.3 L847.5 3067.5" fill="none" stroke="#1e1e1e" stroke-width="3.4" stroke-linecap="butt" stroke-linejoin="miter"/>
<text transform="translate(910.2 2404.3) scale(1.0217 1)" x="-1.47" y="0" font-family="Liberation Sans, sans-serif" font-weight="normal" font-style="normal" font-size="64.10" fill="#000" stroke="#000" stroke-width="1.60" stroke-linejoin="round">4</text>
<text transform="translate(996.8 2404.2) scale(1.1206 1)" x="-3.08" y="0" font-family="Liberation Sans, sans-serif" font-weight="normal" font-style="normal" font-size="60.72" fill="#000" stroke="#000" stroke-width="1.60" stroke-linejoin="round">6</text>
<text transform="translate(1053.3 2507.5) scale(1.0031 1)" x="-2.60" y="0" font-family="Liberation Sans, sans-serif" font-weight="normal" font-style="normal" font-size="64.97" fill="#000" stroke="#000" stroke-width="1.60" stroke-linejoin="round">5</text>
<text transform="translate(976.0 2608.5) scale(1.0344 1)" x="-2.49" y="0" font-family="Liberation Sans, sans-serif" font-weight="normal" font-style="normal" font-size="65.45" fill="#000" stroke="#000" stroke-width="1.60" stroke-linejoin="round">3</text>
<text transform="translate(1104.6 2580.0) scale(0.9815 1)" x="-2.30" y="0" font-family="Liberation Sans, sans-serif" font-weight="bold" font-style="normal" font-size="66.45" fill="#000">2</text>
<text transform="translate(1267.6 2615.6) scale(0.9190 1)" x="-4.33" y="0" font-family="Liberation Sans, sans-serif" font-weight="bold" font-style="normal" font-size="68.75" fill="#000">1</text>
<text transform="translate(1144.9 2793.8) scale(1.0086 1)" x="-2.94" y="0" font-family="Liberation Sans, sans-serif" font-weight="bold" font-style="normal" font-size="68.46" fill="#000">7</text>
<text transform="translate(567.8 2678.9) scale(1.0500 1)" x="-2.77" y="0" font-family="Liberation Sans, sans-serif" font-weight="normal" font-style="normal" font-size="63.73" fill="#000" stroke="#000" stroke-width="1.60" stroke-linejoin="round">8</text>
<text transform="translate(641.0 2726.2) scale(1.0452 1)" x="-3.07" y="0" font-family="Liberation Sans, sans-serif" font-weight="normal" font-style="normal" font-size="65.45" fill="#000" stroke="#000" stroke-width="1.60" stroke-linejoin="round">9</text>
<text transform="translate(726.8 3081.0) scale(0.9634 1)" x="-4.34" y="0" font-family="Liberation Sans, sans-serif" font-weight="bold" font-style="normal" font-size="68.90" fill="#000">11</text>
<text transform="translate(616.6 3124.1) scale(1.0580 1)" x="-4.05" y="0" font-family="Liberation Sans, sans-serif" font-weight="bold" font-style="normal" font-size="64.30" fill="#000">10</text>
<text transform="translate(834.9 3118.8) scale(1.0263 1)" x="-4.27" y="0" font-family="Liberation Sans, sans-serif" font-weight="bold" font-style="normal" font-size="67.74" fill="#000">10</text>
<path d="M147.9 3284.0 L147.9 3269.6 L3217.4 3269.6 L3217.4 3284.0" fill="none" stroke="#2a2a2a" stroke-width="3.6" stroke-linejoin="round"/>
<path d="M180.2 3269.6 V3274.0 M212.5 3269.6 V3274.0 M244.8 3269.6 V3274.0 M277.1 3269.6 V3274.0 M309.4 3269.6 V3284.0 M341.8 3269.6 V3274.0 M374.1 3269.6 V3274.0 M406.4 3269.6 V3274.0 M438.7 3269.6 V3274.0 M471.0 3269.6 V3284.0 M503.3 3269.6 V3274.0 M535.6 3269.6 V3274.0 M567.9 3269.6 V3274.0 M600.2 3269.6 V3274.0 M632.6 3269.6 V3284.0 M664.9 3269.6 V3274.0 M697.2 3269.6 V3274.0 M729.5 3269.6 V3274.0 M761.8 3269.6 V3274.0 M794.1 3269.6 V3284.0 M826.4 3269.6 V3274.0 M858.7 3269.6 V3274.0 M891.0 3269.6 V3274.0 M923.3 3269.6 V3274.0 M955.7 3269.6 V3284.0 M988.0 3269.6 V3274.0 M1020.3 3269.6 V3274.0 M1052.6 3269.6 V3274.0 M1084.9 3269.6 V3274.0 M1117.2 3269.6 V3284.0 M1149.5 3269.6 V3274.0 M1181.8 3269.6 V3274.0 M1214.1 3269.6 V3274.0 M1246.4 3269.6 V3274.0 M1278.8 3269.6 V3284.0 M1311.1 3269.6 V3274.0 M1343.4 3269.6 V3274.0 M1375.7 3269.6 V3274.0 M1408.0 3269.6 V3274.0 M1440.3 3269.6 V3284.0 M1472.6 3269.6 V3274.0 M1504.9 3269.6 V3274.0 M1537.2 3269.6 V3274.0 M1569.5 3269.6 V3274.0 M1601.9 3269.6 V3284.0 M1634.2 3269.6 V3274.0 M1666.5 3269.6 V3274.0 M1698.8 3269.6 V3274.0 M1731.1 3269.6 V3274.0 M1763.4 3269.6 V3284.0 M1795.7 3269.6 V3274.0 M1828.0 3269.6 V3274.0 M1860.3 3269.6 V3274.0 M1892.6 3269.6 V3274.0 M1925.0 3269.6 V3284.0 M1957.3 3269.6 V3274.0 M1989.6 3269.6 V3274.0 M2021.9 3269.6 V3274.0 M2054.2 3269.6 V3274.0 M2086.5 3269.6 V3284.0 M2118.8 3269.6 V3274.0 M2151.1 3269.6 V3274.0 M2183.4 3269.6 V3274.0 M2215.7 3269.6 V3274.0 M2248.1 3269.6 V3284.0 M2280.4 3269.6 V3274.0 M2312.7 3269.6 V3274.0 M2345.0 3269.6 V3274.0 M2377.3 3269.6 V3274.0 M2409.6 3269.6 V3284.0 M2441.9 3269.6 V3274.0 M2474.2 3269.6 V3274.0 M2506.5 3269.6 V3274.0 M2538.8 3269.6 V3274.0 M2571.2 3269.6 V3284.0 M2603.5 3269.6 V3274.0 M2635.8 3269.6 V3274.0 M2668.1 3269.6 V3274.0 M2700.4 3269.6 V3274.0 M2732.7 3269.6 V3284.0 M2765.0 3269.6 V3274.0 M2797.3 3269.6 V3274.0 M2829.6 3269.6 V3274.0 M2861.9 3269.6 V3274.0 M2894.2 3269.6 V3284.0 M2926.6 3269.6 V3274.0 M2958.9 3269.6 V3274.0 M2991.2 3269.6 V3274.0 M3023.5 3269.6 V3274.0 M3055.8 3269.6 V3284.0 M3088.1 3269.6 V3274.0 M3120.4 3269.6 V3274.0 M3152.7 3269.6 V3274.0 M3185.0 3269.6 V3274.0" stroke="#2a2a2a" stroke-width="4" fill="none"/>
<text transform="translate(282.0 3313.8) scale(1.3826 1)" x="-0.95" y="0" font-family="Liberation Sans, sans-serif" font-weight="bold" font-style="normal" font-size="29.79" fill="#111">8.5</text>
<text transform="translate(443.6 3313.8) scale(1.3964 1)" x="-0.95" y="0" font-family="Liberation Sans, sans-serif" font-weight="bold" font-style="normal" font-size="29.79" fill="#111">8.0</text>
<text transform="translate(605.2 3313.8) scale(1.3739 1)" x="-1.30" y="0" font-family="Liberation Sans, sans-serif" font-weight="bold" font-style="normal" font-size="30.23" fill="#111">7.5</text>
<text transform="translate(766.7 3313.8) scale(1.4084 1)" x="-1.28" y="0" font-family="Liberation Sans, sans-serif" font-weight="bold" font-style="normal" font-size="29.79" fill="#111">7.0</text>
<text transform="translate(928.3 3313.8) scale(1.3877 1)" x="-1.09" y="0" font-family="Liberation Sans, sans-serif" font-weight="bold" font-style="normal" font-size="29.79" fill="#111">6.5</text>
<text transform="translate(1089.8 3313.8) scale(1.4016 1)" x="-1.09" y="0" font-family="Liberation Sans, sans-serif" font-weight="bold" font-style="normal" font-size="29.79" fill="#111">6.0</text>
<text transform="translate(1251.3 3313.8) scale(1.3613 1)" x="-0.93" y="0" font-family="Liberation Sans, sans-serif" font-weight="bold" font-style="normal" font-size="30.23" fill="#111">5.5</text>
<text transform="translate(1412.9 3313.8) scale(1.3954 1)" x="-0.92" y="0" font-family="Liberation Sans, sans-serif" font-weight="bold" font-style="normal" font-size="29.79" fill="#111">5.0</text>
<text transform="translate(1574.5 3313.8) scale(1.3455 1)" x="-0.46" y="0" font-family="Liberation Sans, sans-serif" font-weight="bold" font-style="normal" font-size="30.23" fill="#111">4.5</text>
<text transform="translate(1736.0 3313.8) scale(1.3790 1)" x="-0.45" y="0" font-family="Liberation Sans, sans-serif" font-weight="bold" font-style="normal" font-size="29.79" fill="#111">4.0</text>
<text transform="translate(1897.5 3313.8) scale(1.3735 1)" x="-0.68" y="0" font-family="Liberation Sans, sans-serif" font-weight="bold" font-style="normal" font-size="29.79" fill="#111">3.5</text>
<text transform="translate(2059.1 3313.8) scale(1.3872 1)" x="-0.68" y="0" font-family="Liberation Sans, sans-serif" font-weight="bold" font-style="normal" font-size="29.79" fill="#111">3.0</text>
<text transform="translate(2220.7 3313.8) scale(1.3856 1)" x="-1.03" y="0" font-family="Liberation Sans, sans-serif" font-weight="bold" font-style="normal" font-size="29.79" fill="#111">2.5</text>
<text transform="translate(2382.2 3313.8) scale(1.3995 1)" x="-1.03" y="0" font-family="Liberation Sans, sans-serif" font-weight="bold" font-style="normal" font-size="29.79" fill="#111">2.0</text>
<text transform="translate(2543.8 3313.8) scale(1.3950 1)" x="-1.90" y="0" font-family="Liberation Sans, sans-serif" font-weight="bold" font-style="normal" font-size="30.23" fill="#111">1.5</text>
<text transform="translate(2705.3 3313.8) scale(1.4303 1)" x="-1.88" y="0" font-family="Liberation Sans, sans-serif" font-weight="bold" font-style="normal" font-size="29.79" fill="#111">1.0</text>
<text transform="translate(2866.8 3313.8) scale(1.3907 1)" x="-1.18" y="0" font-family="Liberation Sans, sans-serif" font-weight="bold" font-style="normal" font-size="29.79" fill="#111">0.5</text>
<text transform="translate(3028.4 3313.8) scale(1.4047 1)" x="-1.18" y="0" font-family="Liberation Sans, sans-serif" font-weight="bold" font-style="normal" font-size="29.79" fill="#111">0.0</text>
<text transform="translate(3132.0 3313.8) scale(1.3638 1)" x="-2.00" y="0" font-family="Liberation Sans, sans-serif" font-weight="bold" font-style="normal" font-size="30.40" fill="#111">ppm</text>
</svg></body></html>
